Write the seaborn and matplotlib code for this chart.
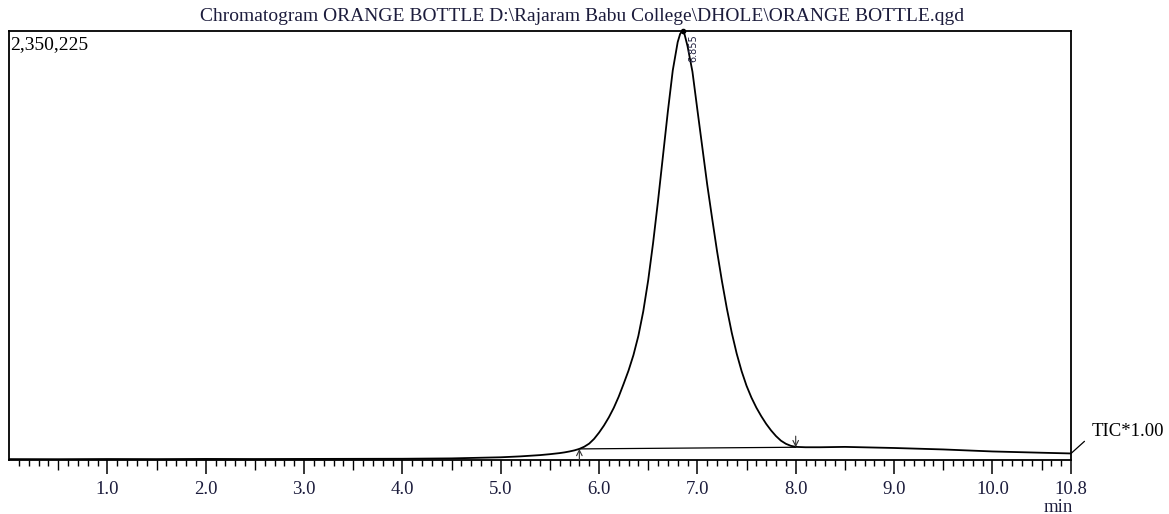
import matplotlib
matplotlib.use("Agg")
import matplotlib.pyplot as plt
import seaborn as sns
import numpy as np

# retention time (min) and TIC intensity
times = [0.0, 0.5, 1.0, 1.5, 2.0, 2.5, 3.0, 3.5, 4.0, 4.5, 5.0, 5.2, 5.4,
         5.5, 5.6, 5.65, 5.7, 5.75, 5.8, 5.85, 5.9, 5.95, 6.0, 6.05, 6.1, 6.15,
         6.2, 6.25, 6.3, 6.35, 6.4, 6.45, 6.5, 6.55, 6.6, 6.65, 6.7, 6.75,
         6.8, 6.825, 6.845, 6.87, 6.9, 6.95, 7.0, 7.05, 7.1, 7.15, 7.2, 7.25,
         7.3, 7.35, 7.4, 7.45, 7.5, 7.55, 7.6, 7.65, 7.7, 7.75, 7.8, 7.85,
         7.9, 7.95, 8.0, 8.1, 8.25, 8.5, 9.0, 9.5, 10.0, 10.5, 10.8]
intensity = [5000, 4500, 5500, 5000, 6000, 5500, 6000, 6500, 7000, 9000,
             15000, 20000, 27000,
             32000, 38000, 42000, 47000, 53000, 61000, 73000, 90000, 116000,
             150000, 189000, 234000, 286000, 347000, 417000, 490000, 575000,
             680000, 815000, 985000, 1190000, 1420000, 1665000, 1910000,
             2135000, 2290000, 2335000, 2350225, 2332000, 2268000, 2128000,
             1920000, 1715000, 1510000, 1325000, 1145000, 980000, 830000,
             697000, 583000, 487000, 407000, 342000, 287000, 240000, 198000,
             162000, 131000, 106000, 89000, 78000, 72000, 70000, 70000,
             72000, 66000, 58000, 47000, 40000, 36000]

# integration baseline of the peak
base_t = [5.8, 8.0]
base_v = [61000, 70000]

peak_rt = 6.855
peak_label = "6.855"
y_max = 2350225
title = r"Chromatogram ORANGE BOTTLE D:\Rajaram Babu College\DHOLE\ORANGE BOTTLE.qgd"

major_ticks = [1.0, 2.0, 3.0, 4.0, 5.0, 6.0, 7.0, 8.0, 9.0, 10.0, 10.8]
major_labels = ["1.0", "2.0", "3.0", "4.0", "5.0", "6.0", "7.0", "8.0",
                "9.0", "10.0", "10.8"]

sns.set_style("ticks")
plt.rcParams["font.family"] = ["Liberation Serif", "DejaVu Serif"]
txt_col = "#1c1c3c"

fig = plt.figure(figsize=(11.69, 5.14), dpi=100)
ax = fig.add_axes([0.0077, 0.105, 0.9085, 0.8345])

sns.lineplot(x=times, y=intensity, color="black", lw=1.3, ax=ax)
sns.lineplot(x=base_t, y=base_v, color="black", lw=0.9, ax=ax)

ax.set_xlim(0, 10.8)
ax.set_ylim(0, y_max)
ax.set_yticks([])
ax.set_xlabel("")
ax.set_ylabel("")

for s in ax.spines.values():
    s.set_visible(True)
    s.set_linewidth(1.3)
    s.set_color("black")

ax.set_xticks(major_ticks)
ax.set_xticklabels(major_labels, fontsize=13.5, color=txt_col)
ax.set_xticks(np.round(np.arange(0.1, 10.8, 0.1), 1), minor=True)
ax.tick_params(axis="x", which="major", length=10, width=1.1, pad=5,
               direction="out", color="black")
ax.tick_params(axis="x", which="minor", length=4, width=1.0,
               direction="out", color="black")
for tick, loc in zip(ax.xaxis.get_minor_ticks(), ax.xaxis.get_minorticklocs()):
    if abs(loc * 2 - round(loc * 2)) < 1e-6:
        tick.tick1line.set_markersize(7)

# apex marker and retention time label
ax.plot([peak_rt], [y_max], marker="o", ms=3, color="black", clip_on=False)
ax.annotate(peak_label, xy=(peak_rt, y_max), xytext=(4, -2),
            textcoords="offset points", rotation=90, ha="left", va="top",
            fontsize=7, color=txt_col, family="DejaVu Sans")

# peak start / end markers
ax.annotate("", xy=(base_t[0], base_v[0]), xytext=(0, -8),
            textcoords="offset points",
            arrowprops=dict(arrowstyle="->", lw=0.8, color="#333333",
                            shrinkA=0, shrinkB=0))
ax.annotate("", xy=(base_t[1], base_v[1]), xytext=(0, 8),
            textcoords="offset points",
            arrowprops=dict(arrowstyle="->", lw=0.8, color="#333333",
                            shrinkA=0, shrinkB=0))

ax.text(0.001, 0.988, f"{y_max:,}", transform=ax.transAxes, ha="left",
        va="top", fontsize=14, color="black")

ax.annotate("TIC*1.00", xy=(times[-1], intensity[-1]), xytext=(15, 16),
            textcoords="offset points", ha="left", va="center",
            fontsize=13.5, color="black", annotation_clip=False,
            arrowprops=dict(arrowstyle="-", lw=0.9, color="black",
                            relpos=(0, 0.3), shrinkA=4, shrinkB=0))

fig.text(0.498, 0.967, title, ha="center", va="center", fontsize=14,
         color=txt_col)
fig.text(0.905, 0.012, "min", ha="center", va="center", fontsize=13.5,
         color=txt_col)

fig.savefig("out.png", dpi=100, facecolor="white")
plt.close(fig)
